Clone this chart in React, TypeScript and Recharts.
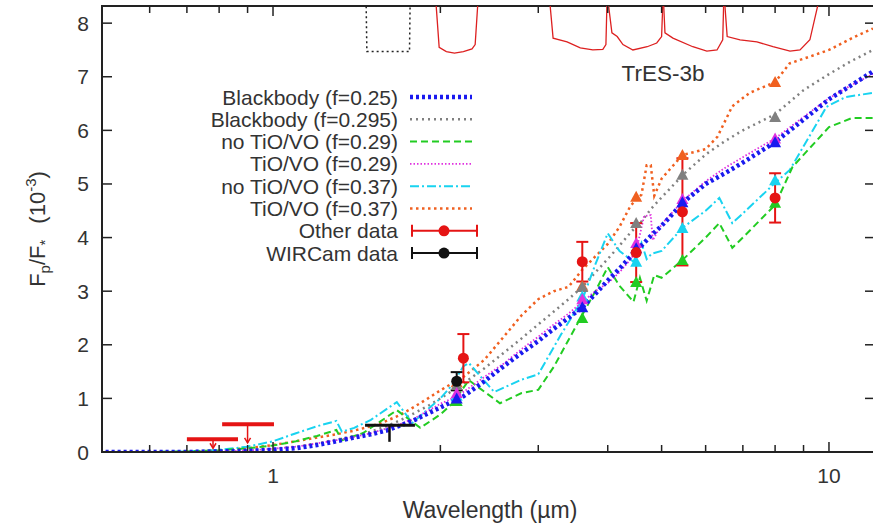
import {
  ComposedChart,
  Line,
  Scatter,
  XAxis,
  YAxis,
  ErrorBar,
  ReferenceArea,
} from "recharts";

// axis range (µm, 10^-3)
const X_MIN = 0.4925;
const X_MAX = 12.1;
const Y_MAX = 8.32;
const PLOT_W = 773;
const PLOT_H = 446;

const X_TICKS = [0.6, 0.7, 0.8, 0.9, 1, 2, 3, 4, 5, 6, 7, 8, 9, 10];
const Y_TICKS = [0, 1, 2, 3, 4, 5, 6, 7, 8];

// model spectra
const gridWl = [
  0.5, 0.6, 0.7, 0.8, 0.9, 1.0, 1.1, 1.2, 1.3, 1.4, 1.5, 1.6, 1.7, 1.8, 1.9,
  2.0, 2.1, 2.2, 2.4, 2.6, 2.8, 3.0, 3.2, 3.4, 3.6, 3.8, 4.0, 4.2, 4.4, 4.6,
  4.8, 5.0, 5.5, 6.0, 6.5, 7.0, 8.0, 9.0, 10, 11, 12,
];
const bb25 = [
  0, 0, 0, 0.01, 0.02, 0.04, 0.07, 0.13, 0.2, 0.27, 0.33, 0.4, 0.5, 0.6, 0.72,
  0.83, 0.94, 1.04, 1.32, 1.6, 1.85, 2.07, 2.3, 2.5, 2.7, 2.95, 3.2, 3.42,
  3.65, 3.85, 4.05, 4.22, 4.68, 5.0, 5.2, 5.4, 5.78, 6.2, 6.58, 6.85, 7.1,
];
const bb295 = [
  0, 0, 0, 0.01, 0.03, 0.06, 0.1, 0.16, 0.23, 0.3, 0.38, 0.48, 0.6, 0.73,
  0.86, 1.0, 1.14, 1.28, 1.56, 1.85, 2.12, 2.38, 2.62, 2.85, 3.08, 3.35, 3.6,
  3.85, 4.1, 4.3, 4.55, 4.75, 5.2, 5.55, 5.8, 6.0, 6.3, 6.75, 7.05, 7.3, 7.5,
];

const tio29Wl = [
  0.5, 0.6, 0.7, 0.8, 0.9, 1.0, 1.1, 1.2, 1.3, 1.4, 1.5, 1.6, 1.7, 1.8, 1.9,
  2.0, 2.1, 2.2, 2.4, 2.6, 2.8, 3.0, 3.2, 3.4, 3.6, 3.8, 4.0, 4.2, 4.4, 4.5,
  4.65, 4.78, 4.82, 5.0, 5.5, 6.0, 6.5, 7.0, 8.0, 9.0, 10, 11, 12,
];
const tio29 = [
  0, 0, 0, 0.01, 0.03, 0.06, 0.1, 0.16, 0.22, 0.28, 0.35, 0.44, 0.53, 0.63,
  0.77, 0.9, 1.0, 1.12, 1.4, 1.65, 1.92, 2.15, 2.38, 2.58, 2.8, 3.0, 3.15,
  3.35, 3.6, 3.75, 4.4, 4.42, 3.95, 4.25, 4.72, 5.05, 5.3, 5.5, 5.85, 6.25,
  6.6, 6.85, 7.05,
];

const tio37Wl = [
  0.5, 0.6, 0.7, 0.8, 0.9, 1.0, 1.1, 1.2, 1.3, 1.4, 1.5, 1.6, 1.7, 1.8, 1.9,
  2.0, 2.1, 2.2, 2.4, 2.6, 2.8, 3.0, 3.2, 3.4, 3.6, 3.8, 4.0, 4.2, 4.4, 4.6,
  4.7, 4.78, 4.85, 5.0, 5.45, 6.0, 6.3, 6.7, 7.2, 8.0, 8.5, 9.2, 10, 11, 12,
];
const tio37 = [
  0, 0, 0.01, 0.03, 0.07, 0.13, 0.2, 0.27, 0.33, 0.4, 0.48, 0.58, 0.7, 0.85,
  1.0, 1.15, 1.28, 1.4, 1.72, 2.15, 2.55, 2.85, 3.0, 3.08, 3.4, 3.65, 3.88,
  4.2, 4.6, 4.8, 5.35, 5.35, 4.78, 5.1, 5.54, 5.65, 5.88, 6.45, 6.7, 6.9,
  7.25, 7.37, 7.5, 7.72, 7.9,
];

const noTio29Wl = [
  0.5, 0.6, 0.7, 0.8, 0.9, 1.0, 1.1, 1.2, 1.3, 1.33, 1.45, 1.55, 1.67, 1.84,
  2.0, 2.1, 2.25, 2.56, 2.8, 3.0, 3.2, 3.6, 3.8, 4.0, 4.2, 4.45, 4.57, 4.7,
  4.85, 5.0, 5.45, 6.0, 6.35, 6.7, 7.0, 8.0, 8.6, 10, 11, 12,
];
const noTio29 = [
  0, 0, 0.01, 0.03, 0.07, 0.12, 0.2, 0.3, 0.41, 0.22, 0.35, 0.55, 0.78, 0.45,
  0.7, 0.9, 1.34, 0.91, 1.1, 1.16, 1.59, 2.56, 3.0, 3.45, 3.1, 2.8, 3.25,
  2.82, 3.3, 3.25, 3.58, 4.0, 4.27, 3.81, 4.0, 4.61, 5.32, 6.06, 6.23, 6.23,
];

const noTio37Wl = [
  0.5, 0.6, 0.7, 0.8, 0.9, 1.0, 1.1, 1.2, 1.3, 1.33, 1.4, 1.5, 1.6, 1.67,
  1.78, 1.9, 2.0, 2.1, 2.2, 2.25, 2.5, 2.8, 3.0, 3.3, 3.6, 3.8, 4.0, 4.2,
  4.45, 4.6, 4.7, 4.8, 5.0, 5.45, 6.0, 6.35, 6.7, 7.0, 8.0, 8.5, 9.9, 10.7, 12,
];
const noTio37 = [
  0, 0, 0.01, 0.04, 0.1, 0.2, 0.35, 0.48, 0.58, 0.38, 0.45, 0.6, 0.8, 0.93,
  0.54, 0.8, 1.0, 1.25, 1.6, 1.66, 1.12, 1.35, 1.45, 2.2, 2.84, 3.5, 4.08,
  3.75, 3.55, 3.9, 3.6, 3.7, 3.75, 4.18, 4.5, 4.74, 4.27, 4.45, 5.02, 5.26,
  6.44, 6.62, 6.7,
];

// band-integrated model values
const bandWl = [2.14, 3.6, 4.5, 5.45, 8.0];
const bandBb25 = [1.0, 2.7, 3.8, 4.66, 5.78];
const bandBb295 = [1.25, 3.08, 4.27, 5.17, 6.25];
const bandNoTio29 = [0.95, 2.5, 3.17, 3.58, 4.65];
const bandTio29 = [1.1, 2.85, 3.9, 4.72, 5.85];
const bandNoTio37 = [1.05, 2.9, 3.55, 4.18, 5.07];
const bandTio37 = [1.3, 3.1, 4.76, 5.54, 6.9];

// observations
const otherWl = [2.2, 3.6, 4.5, 5.45, 8.0];
const otherVal = [1.75, 3.55, 3.72, 4.48, 4.74];
const otherErr = [0.45, 0.37, 0.55, 1.0, 0.46];

const otherLimWl = [0.78, 0.9];
const otherLimVal = [0.24, 0.52];
const otherLimLo = [0.7, 0.81];
const otherLimHi = [0.865, 1.004];
const otherLimTip = [0.07, 0.17];

const wirWl = [2.14];
const wirVal = [1.32];
const wirErr = [0.17];

const wirLimWl = [1.62];
const wirLimVal = [0.5];
const wirLimLo = [1.464];
const wirLimHi = [1.8];
const wirLimTip = [0.19];

// filter transmission profiles drawn at the top
const hBandWl = [1.47, 1.475, 1.76, 1.765];
const hBand = [8.5, 7.47, 7.47, 8.5];
const ksWl = [1.96, 1.99, 2.05, 2.12, 2.2, 2.28, 2.31, 2.34];
const ks = [8.5, 7.55, 7.47, 7.44, 7.47, 7.52, 7.6, 8.5];
const irac1Wl = [3.14, 3.19, 3.38, 3.57, 3.76, 3.92, 3.97, 3.99];
const irac1 = [8.5, 7.72, 7.65, 7.54, 7.5, 7.51, 7.6, 8.5];
const irac2Wl = [3.995, 4.07, 4.16, 4.26, 4.44, 4.71, 4.9, 5.0, 5.03];
const irac2 = [8.5, 7.82, 7.75, 7.6, 7.5, 7.56, 7.63, 7.75, 8.5];
const irac3Wl = [5.035, 5.07, 5.24, 5.69, 6.03, 6.29, 6.44, 6.47];
const irac3 = [8.5, 7.82, 7.72, 7.56, 7.48, 7.5, 7.69, 8.5];
const irac4Wl = [6.48, 6.56, 6.92, 7.42, 7.93, 8.51, 8.87, 9.24, 9.63];
const irac4 = [8.5, 7.75, 7.69, 7.65, 7.56, 7.48, 7.5, 7.69, 8.5];

const pts = (wl: number[], v: number[]) => wl.map((w, i) => ({ w, v: v[i] }));

const FONT = "'Liberation Sans', Arial, Helvetica, sans-serif";
const AXIS = "#222";
const TEXT = "#333";

const BLUE = "#1a1aef";
const GRAY = "#808080";
const GREEN = "#22cc22";
const MAGENTA = "#e030e0";
const CYAN = "#19d3f0";
const ORANGE = "#f06020";
const RED = "#e51414";

type Model = {
  label: string;
  wl: number[];
  v: number[];
  band: number[];
  color: string;
  dash: string;
  width: number;
};

const MODELS: Model[] = [
  { label: "TiO/VO (f=0.37)", wl: tio37Wl, v: tio37, band: bandTio37, color: ORANGE, dash: "2.5 3.5", width: 2.5 },
  { label: "Blackbody (f=0.295)", wl: gridWl, v: bb295, band: bandBb295, color: GRAY, dash: "2 4", width: 2.5 },
  { label: "no TiO/VO (f=0.37)", wl: noTio37Wl, v: noTio37, band: bandNoTio37, color: CYAN, dash: "9 3 2 3", width: 2 },
  { label: "no TiO/VO (f=0.29)", wl: noTio29Wl, v: noTio29, band: bandNoTio29, color: GREEN, dash: "7 4", width: 2 },
  { label: "TiO/VO (f=0.29)", wl: tio29Wl, v: tio29, band: bandTio29, color: MAGENTA, dash: "1.5 2", width: 1.8 },
  { label: "Blackbody (f=0.25)", wl: gridWl, v: bb25, band: bandBb25, color: BLUE, dash: "3 3", width: 4.5 },
];

const LEGEND_ORDER = [
  "Blackbody (f=0.25)",
  "Blackbody (f=0.295)",
  "no TiO/VO (f=0.29)",
  "TiO/VO (f=0.29)",
  "no TiO/VO (f=0.37)",
  "TiO/VO (f=0.37)",
];

const FILTERS = [
  { wl: ksWl, v: ks },
  { wl: irac1Wl, v: irac1 },
  { wl: irac2Wl, v: irac2 },
  { wl: irac3Wl, v: irac3 },
  { wl: irac4Wl, v: irac4 },
];

function XTick(props: any) {
  const { x, y, payload } = props;
  const val = payload.value;
  const major = val === 1 || val === 10;
  const len = major ? 10 : 7;
  return (
    <g>
      <line x1={x} x2={x} y1={y} y2={y - len} stroke={AXIS} strokeWidth={1.5} />
      <line x1={x} x2={x} y1={y - PLOT_H} y2={y - PLOT_H + len} stroke={AXIS} strokeWidth={1.5} />
      {major && (
        <text x={x} y={y + 31} textAnchor="middle" fontSize={21} fill={TEXT} fontFamily={FONT}>
          {val}
        </text>
      )}
    </g>
  );
}

function YTick(props: any) {
  const { x, y, payload } = props;
  return (
    <g>
      <line x1={x} x2={x + 10} y1={y} y2={y} stroke={AXIS} strokeWidth={1.5} />
      <line x1={x + PLOT_W} x2={x + PLOT_W - 10} y1={y} y2={y} stroke={AXIS} strokeWidth={1.5} />
      <text x={x - 13} y={y + 7.5} textAnchor="end" fontSize={21} fill={TEXT} fontFamily={FONT}>
        {payload.value}
      </text>
    </g>
  );
}

const triangle = (color: string) => (p: any) => (
  <polygon
    points={`${p.cx},${p.cy - 6} ${p.cx - 6},${p.cy + 5} ${p.cx + 6},${p.cy + 5}`}
    fill={color}
  />
);
const dotShape = (color: string) => (p: any) => <circle cx={p.cx} cy={p.cy} r={5.5} fill={color} />;
const emptyShape = () => <g />;
const arrowHead = (color: string) => (p: any) => (
  <path d={`M${p.cx - 3},${p.cy - 5} L${p.cx},${p.cy} L${p.cx + 3},${p.cy - 5}`} stroke={color} strokeWidth={1.5} fill="none" />
);

function limits(wl: number[], v: number[], lo: number[], hi: number[], tip: number[]) {
  return wl.map((w, i) => ({
    w,
    v: v[i],
    ex: [w - lo[i], hi[i] - w],
    ey: [v[i] - tip[i], 0],
  }));
}

function Legend() {
  const rowY = (i: number) => 97 + i * 22.3;
  return (
    <svg width={873} height={523} style={{ position: "absolute", left: 0, top: 0, pointerEvents: "none" }}>
      {LEGEND_ORDER.map((label, i) => {
        const m = MODELS.find((mm) => mm.label === label)!;
        return (
          <g key={label}>
            <text x={398} y={rowY(i) + 7.5} textAnchor="end" fontSize={21} fill={TEXT} fontFamily={FONT}>
              {label}
            </text>
            <line x1={410} x2={472} y1={rowY(i)} y2={rowY(i)} stroke={m.color} strokeWidth={m.width} strokeDasharray={m.dash} />
          </g>
        );
      })}
      {[
        { label: "Other data", color: RED },
        { label: "WIRCam data", color: "#111" },
      ].map((d, j) => {
        const y = rowY(6 + j);
        return (
          <g key={d.label}>
            <text x={398} y={y + 7.5} textAnchor="end" fontSize={21} fill={TEXT} fontFamily={FONT}>
              {d.label}
            </text>
            <line x1={412} x2={477} y1={y} y2={y} stroke={d.color} strokeWidth={2} />
            <line x1={412} x2={412} y1={y - 6} y2={y + 6} stroke={d.color} strokeWidth={2} />
            <line x1={477} x2={477} y1={y - 6} y2={y + 6} stroke={d.color} strokeWidth={2} />
            <circle cx={444} cy={y} r={5.5} fill={d.color} />
          </g>
        );
      })}
      <text x={663} y={81} textAnchor="middle" fontSize={22.5} fill={TEXT} fontFamily={FONT}>
        TrES-3b
      </text>
      <text x={490} y={518} textAnchor="middle" fontSize={23} fill={TEXT} fontFamily={FONT}>
        Wavelength (µm)
      </text>
      <text transform="rotate(-90)" x={-229} y={45} textAnchor="middle" fontSize={22} fill={TEXT} fontFamily={FONT}>
        F
        <tspan dy={5} fontSize={15}>p</tspan>
        <tspan dy={-5}>/F</tspan>
        <tspan dy={5} fontSize={15}>*</tspan>
        <tspan dy={-5} dx={16}>(10</tspan>
        <tspan dy={-9} fontSize={15}>-3</tspan>
        <tspan dy={9}>)</tspan>
      </text>
    </svg>
  );
}

export default function App() {
  return (
    <div style={{ position: "absolute", left: 0, top: 0, width: 873, height: 523, overflow: "hidden", background: "#fff" }}>
      <ComposedChart width={876} height={523} margin={{ top: 6, right: 1, bottom: 0, left: 0 }}>
        <XAxis
          dataKey="w"
          type="number"
          scale="log"
          domain={[X_MIN, X_MAX]}
          allowDataOverflow
          ticks={X_TICKS}
          interval={0}
          height={71}
          tickSize={0}
          tickMargin={0}
          tickLine={false}
          tick={<XTick />}
          axisLine={{ stroke: AXIS, strokeWidth: 2 }}
        />
        <YAxis
          type="number"
          domain={[0, Y_MAX]}
          allowDataOverflow
          ticks={Y_TICKS}
          interval={0}
          width={102}
          tickSize={0}
          tickMargin={0}
          tickLine={false}
          tick={<YTick />}
          axisLine={{ stroke: AXIS, strokeWidth: 2 }}
        />
        <ReferenceArea x1={X_MIN} x2={X_MAX} y1={0} y2={Y_MAX} fill="none" stroke={AXIS} strokeWidth={2} />

        <Line data={pts(hBandWl, hBand)} dataKey="v" type="linear" stroke="#222" strokeWidth={1.5} strokeDasharray="2 3" dot={false} isAnimationActive={false} />
        {FILTERS.map((f, i) => (
          <Line key={"f" + i} data={pts(f.wl, f.v)} dataKey="v" type="linear" stroke="#dd2020" strokeWidth={1.3} dot={false} isAnimationActive={false} />
        ))}

        {MODELS.map((m) => (
          <Line
            key={m.label}
            data={pts(m.wl, m.v)}
            dataKey="v"
            type="linear"
            stroke={m.color}
            strokeWidth={m.width}
            strokeDasharray={m.dash}
            dot={false}
            isAnimationActive={false}
          />
        ))}
        {MODELS.map((m) => (
          <Scatter key={"b" + m.label} data={pts(bandWl, m.band)} dataKey="v" shape={triangle(m.color)} isAnimationActive={false} />
        ))}

        <Scatter
          data={limits(otherLimWl, otherLimVal, otherLimLo, otherLimHi, otherLimTip)}
          dataKey="v"
          shape={emptyShape}
          isAnimationActive={false}
        >
          <ErrorBar dataKey="ex" direction="x" width={0} stroke={RED} strokeWidth={4} isAnimationActive={false} />
          <ErrorBar dataKey="ey" direction="y" width={0} stroke={RED} strokeWidth={1.5} isAnimationActive={false} />
        </Scatter>
        <Scatter data={pts(otherLimWl, otherLimTip)} dataKey="v" shape={arrowHead(RED)} isAnimationActive={false} />

        <Scatter
          data={limits(wirLimWl, wirLimVal, wirLimLo, wirLimHi, wirLimTip)}
          dataKey="v"
          shape={emptyShape}
          isAnimationActive={false}
        >
          <ErrorBar dataKey="ex" direction="x" width={0} stroke="#111" strokeWidth={3} isAnimationActive={false} />
          <ErrorBar dataKey="ey" direction="y" width={0} stroke="#111" strokeWidth={2.5} isAnimationActive={false} />
        </Scatter>

        <Scatter
          data={wirWl.map((w, i) => ({ w, v: wirVal[i], e: wirErr[i] }))}
          dataKey="v"
          shape={dotShape("#111")}
          isAnimationActive={false}
        >
          <ErrorBar dataKey="e" direction="y" width={6} stroke="#111" strokeWidth={2} isAnimationActive={false} />
        </Scatter>
        <Scatter
          data={otherWl.map((w, i) => ({ w, v: otherVal[i], e: otherErr[i] }))}
          dataKey="v"
          shape={dotShape(RED)}
          isAnimationActive={false}
        >
          <ErrorBar dataKey="e" direction="y" width={6} stroke={RED} strokeWidth={2} isAnimationActive={false} />
        </Scatter>
      </ComposedChart>
      <Legend />
    </div>
  );
}
